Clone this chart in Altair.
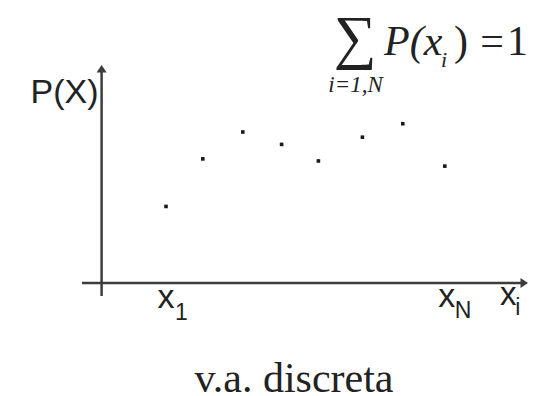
import altair as alt
import pandas as pd

# ---- data ----
xs = [1.61, 2.53, 3.53, 4.50, 5.42, 6.52, 7.53, 8.58]          # positions of x_1 ... x_N
probs = [0.074, 0.120, 0.146, 0.134, 0.118, 0.141, 0.154, 0.113]  # P(x_i), sum = 1

X_DOMAIN = [-0.49, 10.66]
Y_DOMAIN = [-0.0126, 0.2108]

INK = "#222222"
AXIS = "#3c3c3c"
SANS = "Liberation Sans"
SERIF = "Liberation Serif"

xsc = alt.Scale(domain=X_DOMAIN, nice=False, zero=False)
ysc = alt.Scale(domain=Y_DOMAIN, nice=False, zero=False)


def X(f):
    return alt.X(f, type="quantitative", scale=xsc, axis=None)


def Y(f):
    return alt.Y(f, type="quantitative", scale=ysc, axis=None)


pts = pd.DataFrame({"x": xs, "p": probs})
one = pd.DataFrame({"a": [0]})

# axes (drawn as rules in data space)
yaxis = alt.Chart(pd.DataFrame({"x": [0.0], "y": [Y_DOMAIN[0]], "y2": [0.2055]})).mark_rule(
    color=AXIS, strokeWidth=2.5
).encode(x=X("x"), y=Y("y"), y2="y2")

xaxis = alt.Chart(pd.DataFrame({"y": [0.0], "x": [X_DOMAIN[0]], "x2": [10.52]})).mark_rule(
    color=AXIS, strokeWidth=2.5
).encode(y=Y("y"), x=X("x"), x2="x2")

arrow_up = alt.Chart(pd.DataFrame({"x": [0.0], "y": [Y_DOMAIN[1]]})).mark_point(
    shape="M0,0L1,1.5L-1,1.5Z", filled=True, size=100, color=AXIS, opacity=1
).encode(x=X("x"), y=Y("y"))

arrow_right = alt.Chart(pd.DataFrame({"x": [X_DOMAIN[1]], "y": [0.0]})).mark_point(
    shape="M0,0L-1.5,-1L-1.5,1Z", filled=True, size=100, color=AXIS, opacity=1
).encode(x=X("x"), y=Y("y"))

dots = alt.Chart(pts).mark_square(size=13, color="#1a1a1a", opacity=1).encode(
    x=X("x"), y=Y("p")
)

# labels tied to the first and last value
first = pd.DataFrame({"x": [xs[0]], "y": [0.0]})
last = pd.DataFrame({"x": [xs[-1]], "y": [0.0]})

x1_main = alt.Chart(first).mark_text(
    text="x", font=SANS, fontSize=34, color=INK, align="center", baseline="alphabetic", dy=25
).encode(x=X("x"), y=Y("y"))
x1_sub = alt.Chart(first).mark_text(
    text="1", font=SANS, fontSize=23, color=INK, align="left", baseline="alphabetic", dx=9, dy=37.5
).encode(x=X("x"), y=Y("y"))

xN_main = alt.Chart(last).mark_text(
    text="x", font=SANS, fontSize=34, color=INK, align="center", baseline="alphabetic", dx=2, dy=24
).encode(x=X("x"), y=Y("y"))
xN_sub = alt.Chart(last).mark_text(
    text="N", font=SANS, fontSize=23, color=INK, align="left", baseline="alphabetic", dx=10, dy=35.5
).encode(x=X("x"), y=Y("y"))


def label(text, x, y, size, font=SANS, align="left", style="normal"):
    return alt.Chart(one).mark_text(
        text=text, font=font, fontSize=size, color=INK, align=align,
        baseline="alphabetic", fontStyle=style
    ).encode(x=alt.value(x), y=alt.value(y))


px_label = label("P(X)", 16.5, 38, 34, align="right")
xi_main = label("x", 426.3, 240, 33, align="center")
xi_sub = label("i", 433.2, 250, 23)

sigma = label("\u2211", 273, -8, 60, font=SERIF, align="center")
f_px = label("P(x", 302, -10, 42, font=SERIF, style="italic")
f_i = label("i", 359, 1.7, 22, font=SERIF, style="italic")
f_par = label(")", 372, -10, 42, font=SERIF)
f_eq = label("=", 398.3, -10, 42, font=SERIF)
f_one = label("1", 425, -10, 42, font=SERIF)
f_range = label("i=1,N", 273.6, 27.3, 23, font=SERIF, align="center", style="italic")

caption = label("v.a. discreta", 212, 327, 42, font=SERIF, align="center")

chart = alt.layer(
    yaxis, xaxis, arrow_up, arrow_right, dots,
    x1_main, x1_sub, xN_main, xN_sub,
    px_label, xi_main, xi_sub,
    sigma, f_px, f_i, f_par, f_eq, f_one, f_range,
    caption,
).properties(
    width=446,
    height=231,
    padding={"left": 74, "top": 57, "right": 13, "bottom": 100},
    autosize=alt.AutoSizeParams(type="none"),
    background="white",
).configure_view(stroke=None)

chart.save("out.html", embed_options={"renderer": "svg", "actions": False})
